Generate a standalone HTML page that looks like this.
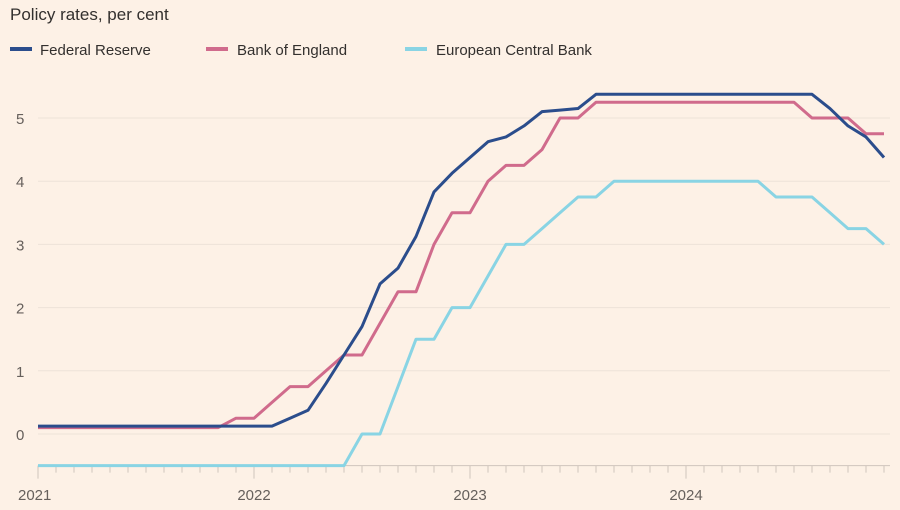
<!DOCTYPE html>
<html><head><meta charset="utf-8"><style>
body{margin:0;background:#fdf1e6;font-family:"Liberation Sans",sans-serif;}
svg{display:block}
</style></head><body>
<svg id="chart" width="900" height="510">
<rect width="900" height="510" fill="#fdf1e6"/>
<text x="10" y="20" font-size="17" fill="#33302e">Policy rates, per cent</text>
<g>
<g><rect x="10" y="47" width="22" height="4" fill="#2b4d8c"/><text x="40" y="55" font-size="15" fill="#33302e">Federal Reserve</text></g>
<g><rect x="206" y="47" width="22" height="4" fill="#d06b8c"/><text x="237" y="55" font-size="15" fill="#33302e">Bank of England</text></g>
<g><rect x="405" y="47" width="22" height="4" fill="#89d4e4"/><text x="436" y="55" font-size="15" fill="#33302e">European Central Bank</text></g>
</g>
<g id="grid"></g><g id="axes"></g><g id="series"></g>
</svg>
<script>
const yTicks=[0,1,2,3,4,5];
const xTickLabels=["2021","2022","2023","2024"];
const fed=[0.125,0.125,0.125,0.125,0.125,0.125,0.125,0.125,0.125,0.125,0.125,0.125,0.125,0.125,0.25,0.375,0.8,1.25,1.7,2.375,2.625,3.125,3.83,4.125,4.375,4.625,4.7,4.875,5.1,5.125,5.15,5.375,5.375,5.375,5.375,5.375,5.375,5.375,5.375,5.375,5.375,5.375,5.375,5.375,5.15,4.875,4.7,4.375];
const boe=[0.1,0.1,0.1,0.1,0.1,0.1,0.1,0.1,0.1,0.1,0.1,0.25,0.25,0.5,0.75,0.75,1.0,1.25,1.25,1.75,2.25,2.25,3.0,3.5,3.5,4.0,4.25,4.25,4.5,5.0,5.0,5.25,5.25,5.25,5.25,5.25,5.25,5.25,5.25,5.25,5.25,5.25,5.25,5.0,5.0,5.0,4.75,4.75];
const ecb=[-0.5,-0.5,-0.5,-0.5,-0.5,-0.5,-0.5,-0.5,-0.5,-0.5,-0.5,-0.5,-0.5,-0.5,-0.5,-0.5,-0.5,-0.5,0,0,0.75,1.5,1.5,2.0,2.0,2.5,3.0,3.0,3.25,3.5,3.75,3.75,4.0,4.0,4.0,4.0,4.0,4.0,4.0,4.0,4.0,3.75,3.75,3.75,3.5,3.25,3.25,3.0];
const NS="http://www.w3.org/2000/svg";
const xS=i=>38+i*18;
const yS=v=>434-v*63.2;
const axisY=yS(-0.5);
const grid=document.getElementById('grid'),axes=document.getElementById('axes'),ser=document.getElementById('series');
yTicks.forEach(t=>{
 const l=document.createElementNS(NS,'line');
 l.setAttribute('x1',38);l.setAttribute('x2',890);l.setAttribute('y1',yS(t));l.setAttribute('y2',yS(t));
 l.setAttribute('stroke','#ede2d8');l.setAttribute('stroke-width',1);
 
 
 grid.appendChild(l);
 const tx=document.createElementNS(NS,'text');
 tx.setAttribute('x',16);tx.setAttribute('y',yS(t)+6);tx.setAttribute('font-size',15);tx.setAttribute('fill','#66605c');
 tx.textContent=t;
 
 
 axes.appendChild(tx);
});
const base=document.createElementNS(NS,'line');
base.setAttribute('x1',38);base.setAttribute('x2',890);base.setAttribute('y1',axisY);base.setAttribute('y2',axisY);base.setAttribute('stroke','#cfc5bc');


axes.appendChild(base);
for(let m=0;m<48;m++){
 const t=document.createElementNS(NS,'line');
 const big=m%12===0;
 t.setAttribute('x1',xS(m));t.setAttribute('x2',xS(m));t.setAttribute('y1',axisY);t.setAttribute('y2',axisY+(big?13:7));t.setAttribute('stroke','#cfc5bc');
 
 
 axes.appendChild(t);
}
xTickLabels.forEach((s,i)=>{
 const tx=document.createElementNS(NS,'text');
 tx.setAttribute('x',i===0?18:xS(i*12));tx.setAttribute('y',500);tx.setAttribute('font-size',15);tx.setAttribute('fill','#66605c');tx.setAttribute('text-anchor',i===0?'start':'middle');
 tx.textContent=s;
 
 
 axes.appendChild(tx);
});
[[ecb,'#89d4e4','ecb-line'],[boe,'#d06b8c','boe-line'],[fed,'#2b4d8c','fed-line']].forEach(([d,c,n])=>{
 const p=document.createElementNS(NS,'polyline');
 p.setAttribute('points',d.map((v,i)=>xS(i)+','+yS(v)).join(' '));
 p.setAttribute('fill','none');p.setAttribute('stroke',c);p.setAttribute('stroke-width',3);p.setAttribute('stroke-linejoin','round');
 
 
 ser.appendChild(p);
});
</script>
</body></html>
